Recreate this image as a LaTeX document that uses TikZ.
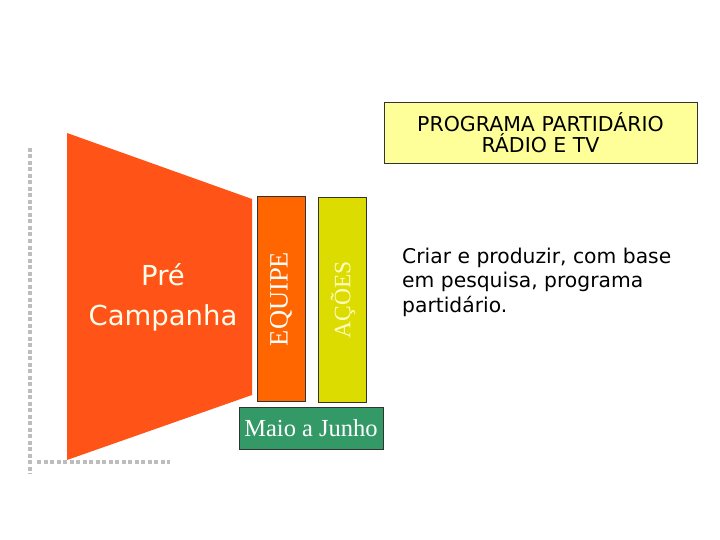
\documentclass[tikz,border=0pt]{standalone}
\usepackage{fontspec}
\setmainfont{Liberation Serif}
\newfontfamily\verd{DejaVu Sans}
\usepackage{tikz}
\usetikzlibrary{positioning, calc}
\definecolor{funil}{HTML}{FF5318}
\definecolor{equipe}{HTML}{FF6600}
\definecolor{acoes}{HTML}{DCDC00}
\definecolor{periodo}{HTML}{339966}
\definecolor{programa}{HTML}{FFFF99}
\definecolor{pontos}{HTML}{BDBDBD}
\begin{document}
\begin{tikzpicture}[x=1pt, y=-1pt,
        bar/.style={draw=black!80, line width=0.8pt, minimum width=48pt, minimum height=205pt, inner sep=0pt},
        label/.style={draw=black!80, line width=0.8pt, align=center, inner sep=0pt},
        dots/.style={pontos, line width=4pt, dash pattern=on 4pt off 2.5pt}]
    \useasboundingbox (0,0) rectangle (720,540);
    % moldura pontilhada
    \draw[dots] (30,148) -- (30,474);
    \draw[dots] (37,462) -- (170,462);
    % funil
    \fill[funil] (67,133) -- (252,199) -- (252,395) -- (67,460) -- cycle;
    \node[text=white!92!yellow, font=\verd\fontsize{27.5}{40}\selectfont, align=center] (fase) at (163,297) {Pré\\Campanha};
    % colunas
    \node[bar, fill=equipe] (equipe) at (281,299) {};
    \node[rotate=90, text=white, font=\fontsize{26.5}{26.5}\selectfont] at (equipe) {EQUIPE};
    \node[bar, fill=acoes] (acoes) at (342,299.5) {};
    \node[rotate=90, text=yellow!25, font=\fontsize{23.5}{23.5}\selectfont] at ([xshift=1pt]acoes.center) {AÇÕES};
    \node[label, fill=periodo, minimum width=144pt, minimum height=42pt, text=white, font=\fontsize{24.5}{24.5}\selectfont] (periodo) at (311,428) {Maio a Junho};
    % titulo e texto
    \node[label, fill=programa, minimum width=313pt, minimum height=61pt, font=\verd\fontsize{20.5}{21}\selectfont] (programa) at (540.5,132.5) {PROGRAMA PARTIDÁRIO\\RÁDIO E TV};
    \node[anchor=north west, align=left, inner sep=0pt, font=\verd\fontsize{20.3}{24.5}\selectfont] (descricao) at (402,247.5) {Criar e produzir, com base\\em pesquisa, programa\\partidário.};
\end{tikzpicture}
\end{document}
